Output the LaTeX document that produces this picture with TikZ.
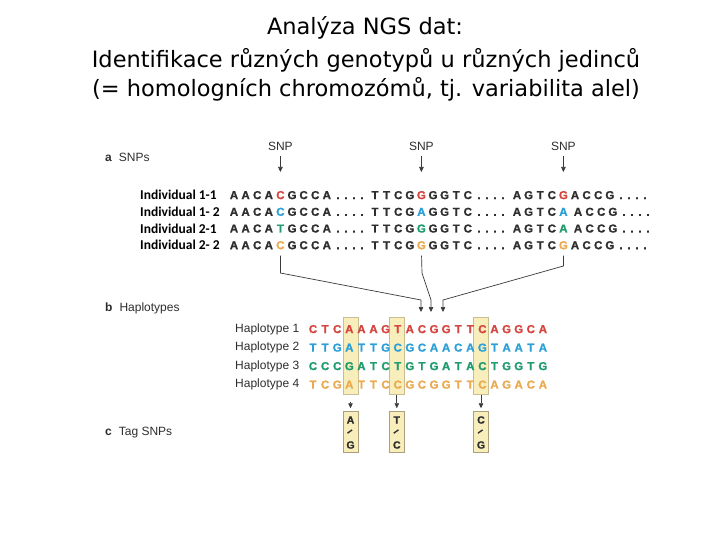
\documentclass[tikz,border=0pt]{standalone}
\usepackage{fontspec}
\setmainfont{Liberation Sans}
\newfontfamily\titlefont{DejaVu Sans}
\newfontfamily\labfont{Carlito}
\newfontfamily\seqfont{Liberation Sans}[BoldFeatures={FakeBold=1.2}]
\usetikzlibrary{arrows.meta}
\definecolor{dk}{HTML}{2E2E2E}
\definecolor{sr}{HTML}{D6453F}
\definecolor{sb}{HTML}{2A9FD8}
\definecolor{sg}{HTML}{1F9C6E}
\definecolor{so}{HTML}{EBAA4F}
\definecolor{hl}{HTML}{F8EEBB}
\definecolor{hlb}{HTML}{C8BE92}
\definecolor{ln}{HTML}{3A3A3A}
\newcommand\gletters[6]{% name, base x, baseline y, snp colour, shift after snp, letters
  \foreach \ch [count=\i from 0] in {#6} {
    \ifnum\i=4 \def\tc{#4}\else\def\tc{dk}\fi
    \node[seq,text=\tc] (#1-\i) at ({#2+\i*11.6+(\i>4)*#5},#3) {\ch};
  }
  \foreach \j in {0,...,3} {
    \node[seq] (#1-d\j) at ({#2+104+#5+\j*8},#3) {.};
  }
}
\newcommand\hletters[4]{% name, baseline y, colour, letters
  \foreach \ch [count=\i from 0] in {#4} {
    \node[seq,text=#3] (#1-\i) at ({313+\i*12.1},#2) {\ch};
  }
}
\begin{document}
\begin{tikzpicture}[x=1pt,y=-1pt,
  seq/.style={inner sep=0pt,anchor=base,text=dk,font=\seqfont\fontsize{11.5}{13}\selectfont\bfseries},
  ttl/.style={inner sep=0pt,font=\titlefont\fontsize{22.5}{27}\selectfont,text=black},
  indiv/.style={inner sep=0pt,anchor=west,font=\labfont\fontsize{13.5}{15}\selectfont\bfseries,text=black},
  lab/.style={inner sep=0pt,text=dk,font=\fontsize{12}{14}\selectfont},
  sect/.style={inner sep=0pt,anchor=west,text=dk,font=\fontsize{12}{14}\selectfont},
  arr/.style={draw=ln,line width=0.7pt,-{Triangle[length=5pt,width=4.5pt]}},
  hlbox/.style={draw=hlb,fill=hl,line width=0.5pt,inner sep=0pt,minimum width=15pt},
  tagl/.style={inner sep=0pt,text=dk,font=\seqfont\fontsize{10.5}{12}\selectfont\bfseries},
  tags/.style={inner sep=0pt,text=dk,rotate=35,font=\seqfont\fontsize{11}{12}\selectfont\bfseries}
]
\useasboundingbox (0,0) rectangle (720,540);
\fill[white] (0,0) rectangle (720,540);

% title
\node[ttl] (t1) at (365,28) {Analýza NGS dat:};
\node[ttl] (t2) at (366,60) {Identifikace různých genotypů u různých jedinců};
\node[ttl] (t3) at (366,89) {(= homologních chromozómů, tj. variabilita alel)};

% section labels
\node[sect] (sa) at (105,157) {\textbf{a}\hspace{7pt}SNPs};
\node[sect] (sb) at (105,308) {\textbf{b}\hspace{7pt}Haplotypes};
\node[sect] (sc) at (105,433) {\textbf{c}\hspace{7pt}Tag SNPs};

% SNP labels and arrows
\node[lab] (snp1) at (280.4,146) {SNP};
\node[lab] (snp2) at (421.4,146) {SNP};
\node[lab] (snp3) at (563.4,146) {SNP};
\coordinate (sa1) at (280.4,172);
\coordinate (sa2) at (421.4,172);
\coordinate (sa3) at (563.4,172);
\draw[arr,shorten <=6pt] (snp1.south) -- (sa1);
\draw[arr,shorten <=6pt] (snp2.south) -- (sa2);
\draw[arr,shorten <=6pt] (snp3.south) -- (sa3);

% individuals
\node[indiv] (i1) at (140,195) {Individual 1-1};
\node[indiv] (i2) at (140,211.7) {Individual 1- 2};
\node[indiv] (i3) at (140,228.4) {Individual 2-1};
\node[indiv] (i4) at (140,245.1) {Individual 2- 2};

\gletters{r1g1}{234}{199.1}{sr}{0}{A,A,C,A,C,G,C,C,A}
\gletters{r1g2}{375}{199.1}{sr}{0}{T,T,C,G,G,G,G,T,C}
\gletters{r1g3}{517}{199.1}{sr}{0}{A,G,T,C,G,A,C,C,G}
\gletters{r2g1}{234}{215.8}{sb}{0}{A,A,C,A,C,G,C,C,A}
\gletters{r2g2}{375}{215.8}{sb}{0}{T,T,C,G,A,G,G,T,C}
\gletters{r2g3}{517}{215.8}{sb}{3}{A,G,T,C,A,A,C,C,G}
\gletters{r3g1}{234}{232.5}{sg}{0}{A,A,C,A,T,G,C,C,A}
\gletters{r3g2}{375}{232.5}{sg}{0}{T,T,C,G,G,G,G,T,C}
\gletters{r3g3}{517}{232.5}{sg}{3}{A,G,T,C,A,A,C,C,G}
\gletters{r4g1}{234}{249.2}{so}{0}{A,A,C,A,C,G,C,C,A}
\gletters{r4g2}{375}{249.2}{so}{0}{T,T,C,G,G,G,G,T,C}
\gletters{r4g3}{517}{249.2}{so}{0}{A,G,T,C,G,A,C,C,G}

% connectors to haplotypes
\coordinate (k1) at (280.4,273);
\coordinate (k2) at (422,273);
\coordinate (k3) at (563.4,266);
\coordinate (m1) at (421,300);
\coordinate (m2) at (431,300);
\coordinate (m3) at (443,300);
\coordinate (e1) at (421,312);
\coordinate (e2) at (431,312);
\coordinate (e3) at (443,312);
\draw[arr,shorten <=6pt] (r4g1-4.south) -- (k1) -- (m1) -- (e1);
\draw[arr,shorten <=6pt] (r4g2-4.south) -- (k2) -- (m2) -- (e2);
\draw[arr,shorten <=6pt] (r4g3-4.south) -- (k3) -- (m3) -- (e3);

% highlight columns
\node[hlbox,minimum height=77pt] (h1) at (350.5,355.5) {};
\node[hlbox,minimum height=77pt] (h2) at (396.8,355.5) {};
\node[hlbox,minimum height=77pt] (h3) at (481,355.5) {};

% haplotypes
\node[lab,anchor=west] (hp1) at (235,329) {Haplotype 1};
\node[lab,anchor=west] (hp2) at (235,347.5) {Haplotype 2};
\node[lab,anchor=west] (hp3) at (235,366) {Haplotype 3};
\node[lab,anchor=west] (hp4) at (235,384.5) {Haplotype 4};
\hletters{hA}{333.1}{sr}{C,T,C,A,A,A,G,T,A,C,G,G,T,T,C,A,G,G,C,A}
\hletters{hB}{351.6}{sb}{T,T,G,A,T,T,G,C,G,C,A,A,C,A,G,T,A,A,T,A}
\hletters{hC}{370.1}{sg}{C,C,C,G,A,T,C,T,G,T,G,A,T,A,C,T,G,G,T,G}
\hletters{hD}{388.6}{so}{T,C,G,A,T,T,C,C,G,C,G,G,T,T,C,A,G,A,C,A}

% tag SNP boxes
\node[hlbox,draw=hlb!85!black,minimum height=41pt] (g1) at (350.5,431.5) {};
\node[hlbox,draw=hlb!85!black,minimum height=41pt] (g2) at (396.8,431.5) {};
\node[hlbox,draw=hlb!85!black,minimum height=41pt] (g3) at (481,431.5) {};
\draw[arr,shorten <=8pt,shorten >=2.5pt] (h1.south) -- (g1.north);
\draw[arr,shorten <=1pt,shorten >=2.5pt] (h2.south) -- (g2.north);
\draw[arr,shorten <=1pt,shorten >=2.5pt] (h3.south) -- (g3.north);
\node[tagl] (g1a) at (350.5,420) {A};
\node[tags] (g1s) at (350.5,432.5) {–};
\node[tagl] (g1b) at (350.5,445) {G};
\node[tagl] (g2a) at (396.8,420) {T};
\node[tags] (g2s) at (396.8,432.5) {–};
\node[tagl] (g2b) at (396.8,445) {C};
\node[tagl] (g3a) at (481,420) {C};
\node[tags] (g3s) at (481,432.5) {–};
\node[tagl] (g3b) at (481,445) {G};
\end{tikzpicture}
\end{document}
